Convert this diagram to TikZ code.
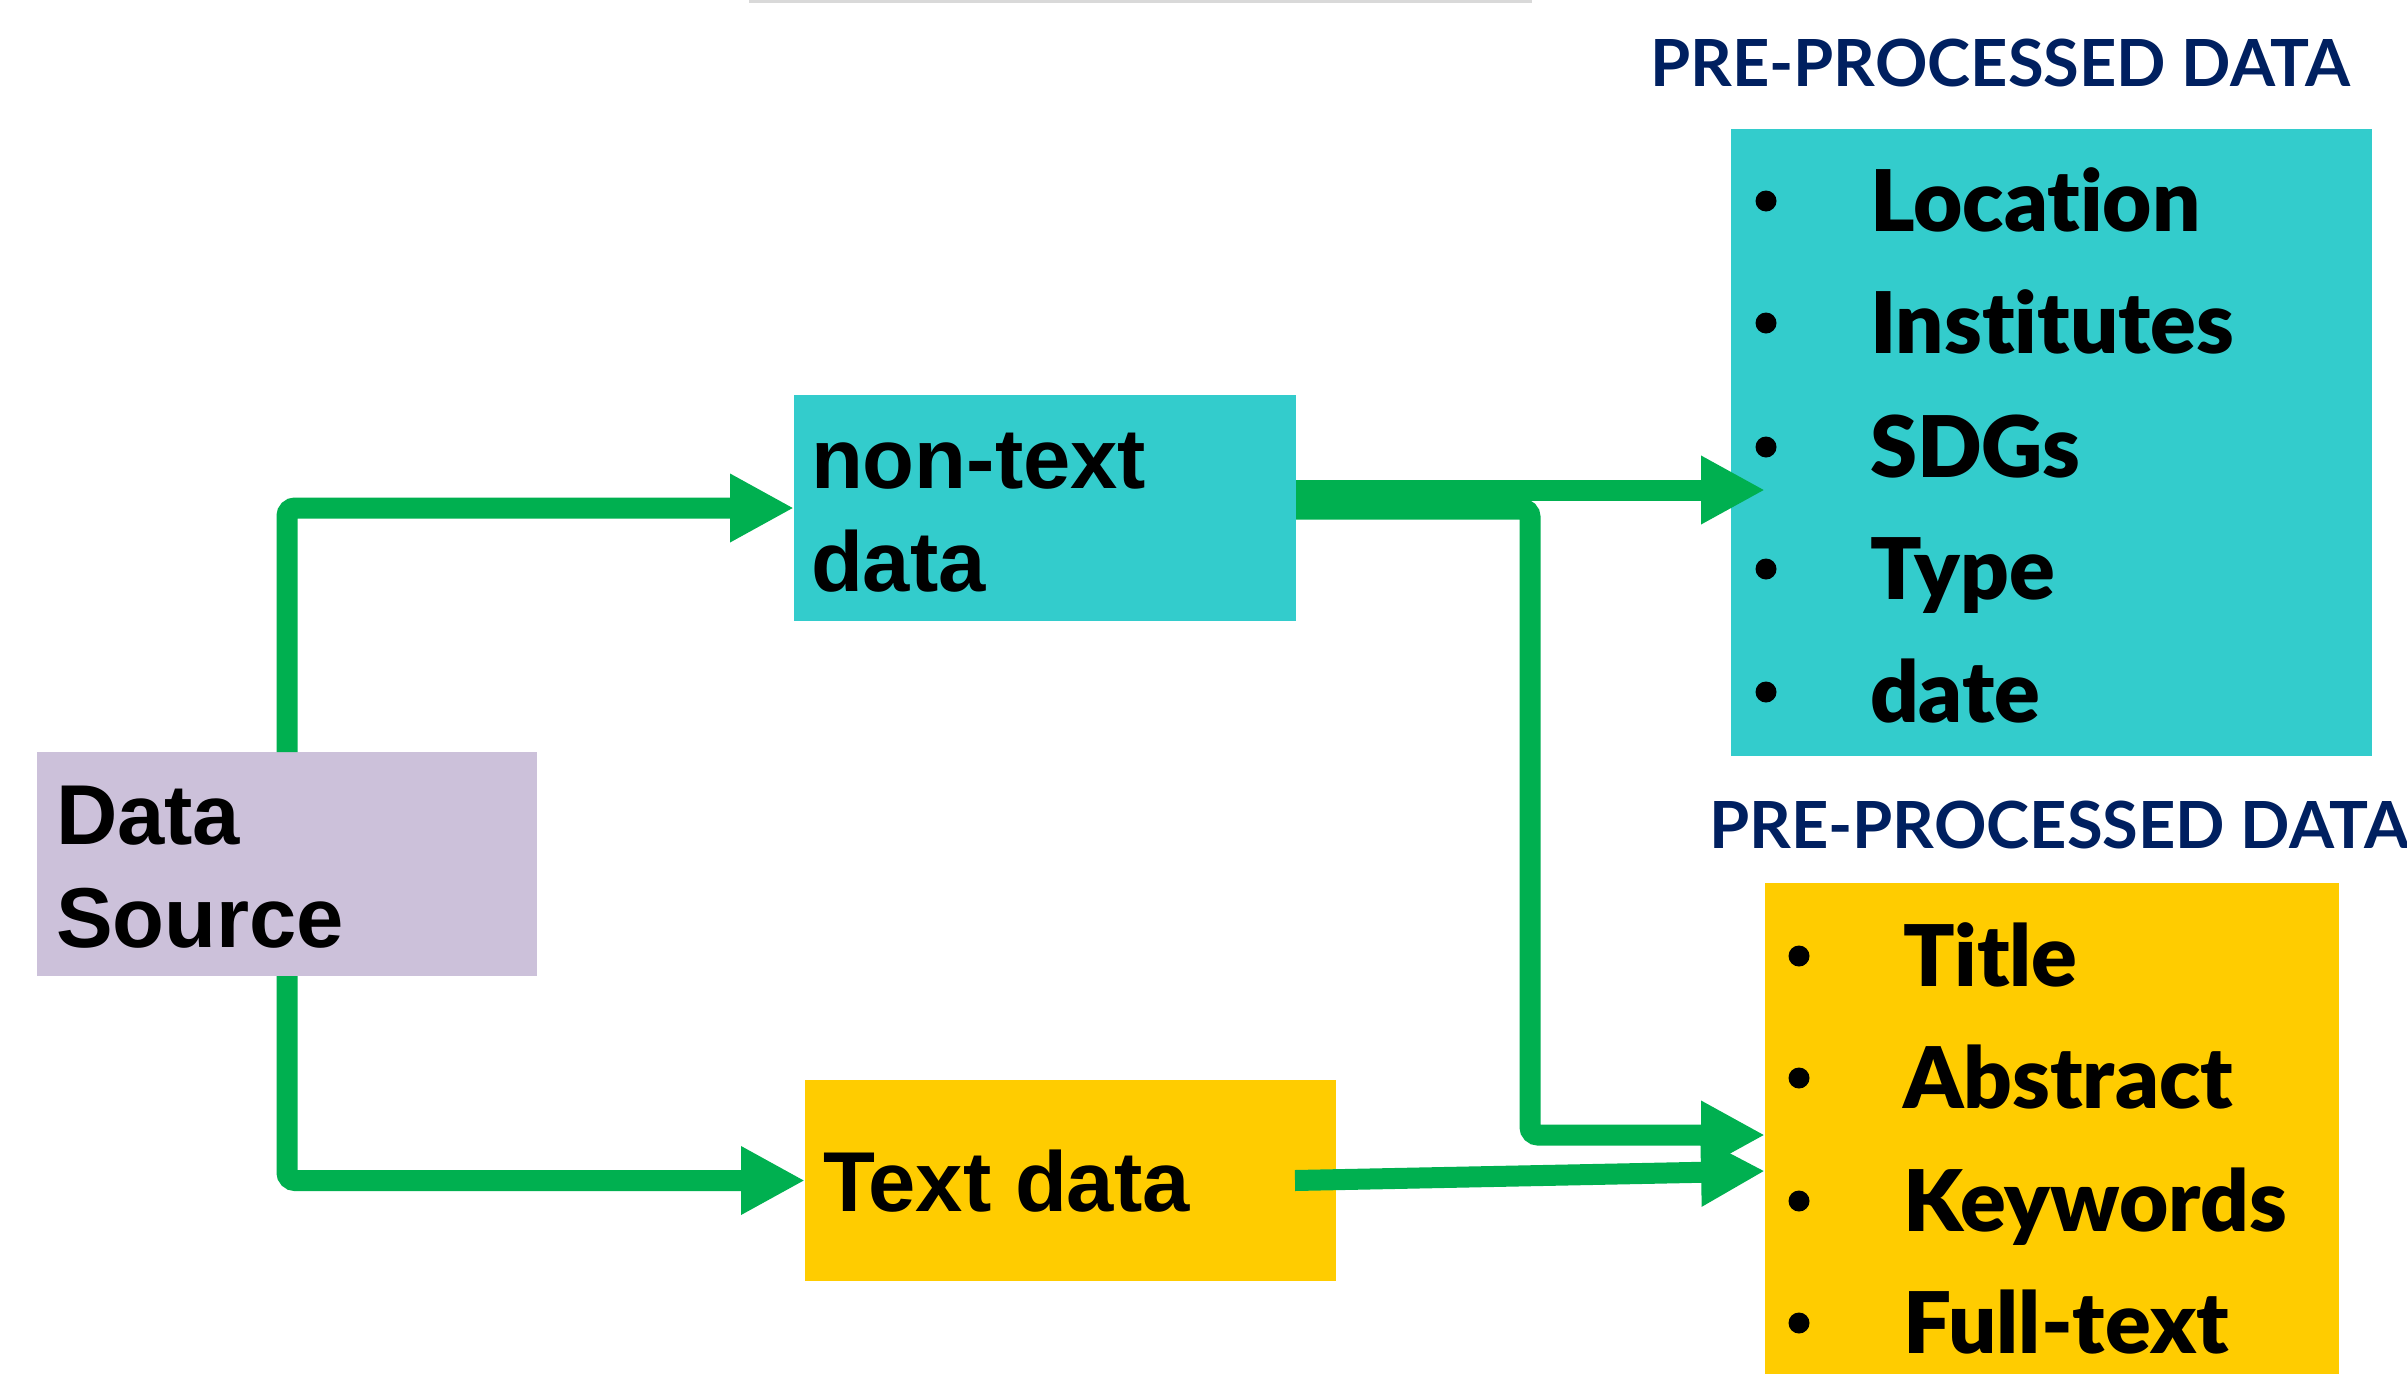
\documentclass[tikz,border=0pt]{standalone}
\usepackage{fontspec}
\setmainfont{Liberation Sans}
\newfontfamily\latoblack{Lato Black}[Ligatures={NoCommon}]
\newfontfamily\latof{Lato}
\usetikzlibrary{arrows.meta,calc}
\definecolor{grn}{HTML}{00B050}
\definecolor{cyn}{HTML}{33CCCC}
\definecolor{ylw}{HTML}{FFCC00}
\definecolor{lav}{HTML}{CCC1DA}
\definecolor{navy}{HTML}{002060}
\definecolor{lgray}{HTML}{D9D9D9}
\begin{document}
\begin{tikzpicture}[x=1pt,y=-1pt,
  box/.style={rectangle,draw=none,inner sep=0pt,outer sep=0pt},
  conn/.style={draw=grn,line width=21pt,rounded corners=8pt,-{Triangle[length=64pt,width=64pt]}},
  lbl/.style={inner sep=0pt,outer sep=0pt,anchor=base west,font=\fontsize{85}{103}\selectfont\bfseries},
  item/.style={inner sep=0pt,outer sep=0pt,anchor=base west,font=\latoblack\fontsize{85}{100}\selectfont},
  ttl/.style={inner sep=0pt,outer sep=0pt,anchor=base west,text=navy,font=\latof\bfseries\fontsize{65}{70}\selectfont},
  bul/.style={circle,fill=black,draw=none,inner sep=0pt,minimum size=21pt}
]
\useasboundingbox (0,0) rectangle (2407,1374);
\fill[white] (0,0) rectangle (2407,1374);
% top gray rule
\draw[lgray,line width=3pt] (749,1.5) -- (1532,1.5);

% boxes
\node[box,fill=lav,minimum width=500pt,minimum height=224pt] (ds) at (287,864) {};
\node[box,fill=cyn,minimum width=502pt,minimum height=226pt] (nt) at (1045,508) {};
\node[box,fill=ylw,minimum width=531pt,minimum height=201pt] (td) at (1070.5,1180.5) {};
\node[box,fill=cyn,minimum width=641pt,minimum height=627pt] (pp1) at (2051.5,442.5) {};
\node[box,fill=ylw,minimum width=574pt,minimum height=491pt] (pp2) at (2052,1128.5) {};

% box labels
\node[lbl] (dsa) at (56,844) {Data};
\node[lbl] (dsb) at (56,947) {Source};
\node[lbl] (nta) at (811,488) {non-text};
\node[lbl] (ntb) at (811,591) {data};
\node[lbl] (tda) at (823,1211) {Text data};

% titles
\node[ttl] (ti1) at (1650,86) {PRE-PROCESSED DATA};
\node[ttl] (ti2) at (1709,848) {PRE-PROCESSED DATA};

% connectors
\coordinate (a1) at (1765,490);
\coordinate (k) at (1530,509);
\coordinate (a2) at (1765,1135);
\coordinate (a3) at (1765,1171);
\draw[conn] (ds.north) |- (nt.west);
\draw[conn] (ds.south) |- (td.west);
\draw[conn] (nt.east |- a1) -- (a1);
\draw[conn] (nt.east |- k) -- (k) |- (a2);
\draw[conn,rounded corners=0pt] ($(td.east)+(-41,0)$) -- (a3);

% top list
\node[bul] (b11) at (1766,201) {};
\node[bul] (b12) at (1766,323) {};
\node[bul] (b13) at (1766,447) {};
\node[bul] (b14) at (1766,569) {};
\node[bul] (b15) at (1766,692) {};
\node[item] (i11) at (1870,231) {Location};
\node[item] (i12) at (1870,353) {Institutes};
\node[item] (i13) at (1870,477) {SDGs};
\node[item] (i14) at (1870,599) {Type};
\node[item] (i15) at (1870,722) {date};

% bottom list
\node[bul] (b21) at (1799,956) {};
\node[bul] (b22) at (1799,1078) {};
\node[bul] (b23) at (1799,1201) {};
\node[bul] (b24) at (1799,1323) {};
\node[item] (i21) at (1903,986) {Title};
\node[item] (i22) at (1903,1108) {Abstract};
\node[item] (i23) at (1903,1231) {Keywords};
\node[item] (i24) at (1903,1353) {Full-text};
\end{tikzpicture}
\end{document}
